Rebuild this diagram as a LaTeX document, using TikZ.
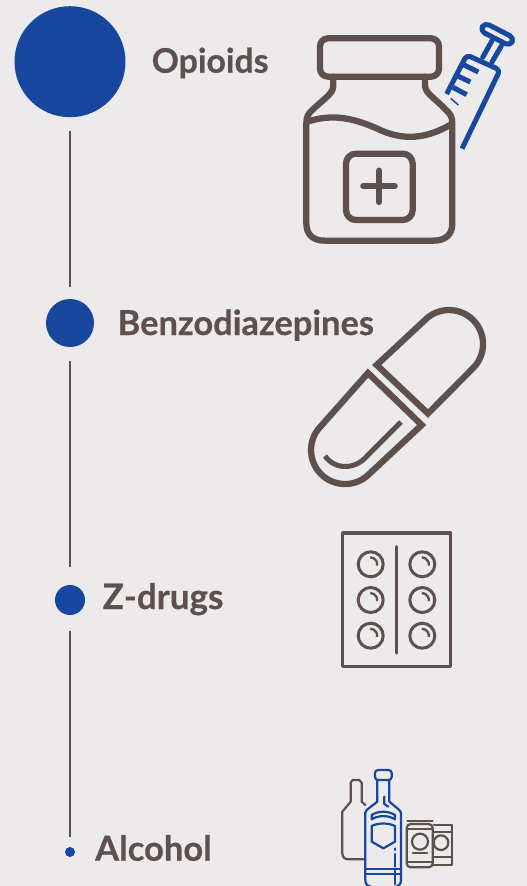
\documentclass[tikz,border=0pt]{standalone}
\usepackage{fontspec}
\setmainfont{Lato}[BoldFont={Lato Bold},BoldFeatures={FakeBold=0.5}]
\definecolor{bgc}{HTML}{ECEAEB}
\definecolor{brn}{HTML}{5E504C}
\definecolor{blu}{HTML}{17479E}
\tikzset{
  dot/.style={circle,fill=blu,draw=none,inner sep=0pt},
  lab/.style={anchor=base west,inner sep=0pt,text=brn,font=\bfseries\fontsize{#1}{#1}\selectfont},
  link/.style={draw=brn,line width=2pt},
  icon/.style={draw=brn,line width=6.3pt,line join=round,line cap=round},
  zoomed/.style={x=0.33333pt,y=-0.33333pt},
}
\begin{document}
\begin{tikzpicture}[x=1pt,y=-1pt]
\fill[bgc] (0,0) rectangle (527,886);
\useasboundingbox (0,0) rectangle (527,886);
\clip (0,0) rectangle (527,886);
% timeline
\node[dot,minimum size=111pt] (c1) at (70,61.7) {};
\node[dot,minimum size=48pt] (c2) at (70,323) {};
\node[dot,minimum size=30pt] (c3) at (70,600) {};
\node[dot,minimum size=10pt] (c4) at (70,852) {};
\draw[link,xshift=-1pt,shorten <=14pt,shorten >=12pt] (c1) -- (c2);
\draw[link,xshift=-1pt,shorten <=14pt,shorten >=18pt] (c2) -- (c3);
\draw[link,xshift=-1pt,shorten <=16pt,shorten >=10pt] (c3) -- (c4);
\node[lab=33.8] (t1) at (151.5,72.7) {Opioids};
\node[lab=34.4] (t2) at (117.5,335) {Benzodiazepines};
\node[lab=35] (t3) at (102.5,609) {Z-drugs};
\node[lab=34.5] (t4) at (95,860.7) {Alcohol};
% jar + syringe
\begin{scope}[shift={(290,10)},zoomed]
\draw[icon,rounded corners=8pt] (90,85) rectangle (447,200);
\draw[icon] (130,200) -- (130,225) .. controls (130,250) and (110,260) .. (70,297)
  .. controls (55,310) and (49,320) .. (49,340) -- (49,640)
  .. controls (49,675) and (70,692) .. (105,692) -- (430,692)
  .. controls (465,692) and (487,675) .. (487,640) -- (487,340)
  .. controls (487,320) and (480,310) .. (465,297)
  .. controls (430,260) and (405,250) .. (405,225) -- (405,200);
\draw[icon] (52,335) .. controls (130,310) and (190,325) .. (260,355)
  .. controls (340,395) and (410,385) .. (480,345);
\draw[icon,rounded corners=10pt] (168,431) rectangle (368,630);
\draw[icon] (267,482) -- (267,576) (220,528) -- (314,528);
\draw[icon,draw=blu,line width=5pt,rounded corners=5pt] (570,62) -- (584,38) -- (673,84) -- (660,108) -- cycle;
\draw[icon,draw=blu,line width=5pt] (606,92) -- (578,142) (634,108) -- (606,156);
\draw[icon,draw=blu,line width=5pt,line cap=butt,rounded corners=4pt] (470,252) -- (530,135) -- (630,180) -- (516,416);
\draw[icon,draw=blu,line width=5pt,line cap=butt] (518,163) -- (565,186) (503,198) -- (541,216) (489,232) -- (530,254);
\draw[draw=blu,line width=1.5pt] (482,265) -- (505,285);
\end{scope}
% capsule
\begin{scope}[line width=6.3pt,line join=miter]
\draw[draw=brn] (376.7,365) -- (425,320) arc[start angle=-135,end angle=45,radius=34] -- (428,413.5) -- cycle;
\draw[draw=brn] (368,373) -- (321,426) arc[start angle=-135,end angle=-315,radius=34] -- (421.7,425) -- cycle;
\draw[draw=brn,line width=5pt] (401,422) -- (367,456) .. controls (355,470) and (335,470) .. (325,456);
\end{scope}
% blister
\draw[brn,line width=3.5pt,line join=round] (342.7,533) rectangle (450.7,666.7);
\draw[brn,line width=3pt,line cap=round] (396.3,546.7) -- (396.3,653);
\foreach \cx in {370.7,422.3}{\foreach \cy in {564.3,600,635.7}{
  \draw[brn,line width=3pt] (\cx,\cy) circle[radius=12.5];
  \draw[brn,line width=2.3pt] (\cx-0.5,\cy-7) arc[start angle=-90,end angle=10,radius=7];
}}
% bottles
\begin{scope}[shift={(330,760)},zoomed]
\begin{scope}[line width=2.2pt,line cap=round,line join=round]
\draw[brn] (106,135) -- (95,125) -- (95,68) -- (88,60) -- (68,60) -- (62,68) -- (62,125) -- (37,155) -- (37,280) .. controls (37,292) and (45,298) .. (55,298) -- (100,298);
\draw[brn,rounded corners=4pt] (230,192) rectangle (308,322);
\draw[brn] (232,183) -- (308,183) (232,207) -- (308,207) (232,307) -- (308,307);
\draw[brn] (270,245) circle[radius=24];
\draw[brn] (248,278) -- (292,278);
\draw[brn] (312,195) -- (365,195) (312,215) -- (365,215) (312,290) -- (365,290);
\draw[brn] (365,195) -- (365,315) -- (310,315);
\draw[brn] (333,248) circle[radius=22];
\end{scope}
\begin{scope}[line width=2.2pt,line cap=round,line join=round]
\draw[blu,rounded corners=3pt] (135,30) rectangle (185,60);
\draw[blu] (142,60) -- (142,125) -- (110,150) -- (106,158) -- (106,360) .. controls (106,372) and (112,378) .. (122,380)
  (178,60) -- (178,125) -- (208,150) -- (213,158) -- (213,360) .. controls (213,372) and (207,378) .. (198,380);
\draw[blu] (163,110) -- (163,132) -- (175,140);
\draw[blu] (125,165) .. controls (145,152) and (175,152) .. (195,165) -- (195,178) .. controls (175,165) and (145,165) .. (125,178) -- cycle;
\draw[blu] (125,198) .. controls (145,188) and (175,188) .. (195,198) -- (195,245) -- (160,265) -- (125,245) -- cycle;
\draw[blu] (195,265) -- (195,270) (195,282) -- (195,320) (195,332) -- (195,372);
\draw[blu] (106,327) -- (213,327) (106,342) -- (213,342);
\end{scope}
\end{scope}
\end{tikzpicture}
\end{document}
